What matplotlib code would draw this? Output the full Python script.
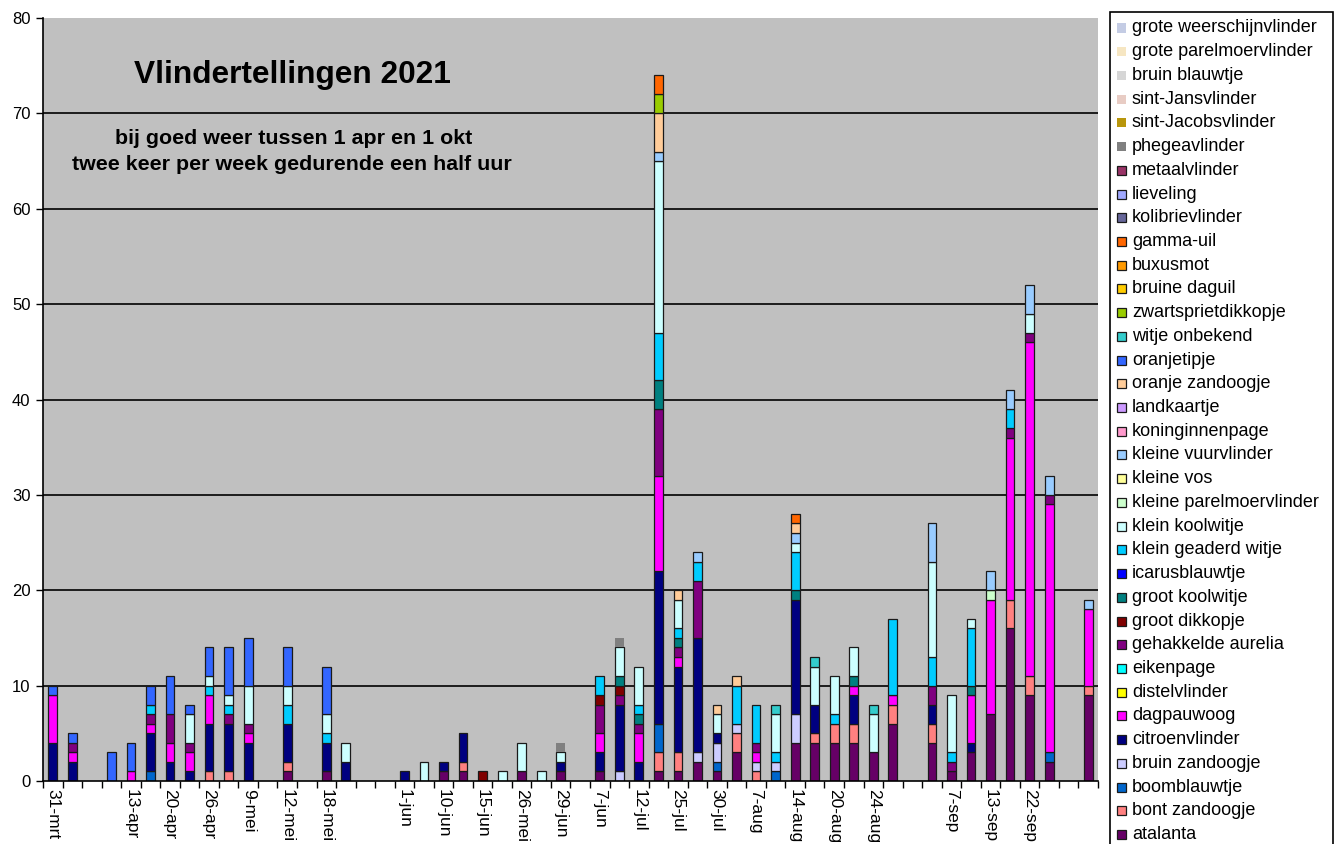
import numpy as np
import matplotlib
matplotlib.use("Agg")
import matplotlib.pyplot as plt
from matplotlib.patches import Rectangle

plt.rcParams['font.family'] = ['Liberation Sans', 'DejaVu Sans']

# ---------------- data ----------------
dates = ["31-mrt", "", "", "", "13-apr", "", "20-apr", "", "26-apr", "",
         "9-mei", "", "12-mei", "", "18-mei", "", "", "", "1-jun", "",
         "10-jun", "", "15-jun", "", "26-mei", "", "29-jun", "", "7-jun", "",
         "12-jul", "", "25-jul", "", "30-jul", "", "7-aug", "", "14-aug", "",
         "20-aug", "", "24-aug", "", "", "", "7-sep", "", "13-sep", "",
         "22-sep", "", "", ""]
N = len(dates)
NONE = [0] * N

atalanta = [0, 0, 0, 0, 0, 0, 0, 0, 0, 0,
            0, 0, 1, 0, 1, 0, 0, 0, 0, 0,
            1, 1, 0, 0, 1, 0, 1, 0, 1, 0,
            0, 1, 1, 2, 1, 3, 0, 0, 4, 4,
            4, 4, 3, 6, 0, 4, 1, 3, 7, 16,
            9, 2, 0, 9]
bont_zandoogje = [0, 0, 0, 0, 0, 0, 0, 0, 1, 1,
                  0, 0, 1, 0, 0, 0, 0, 0, 0, 0,
                  0, 1, 0, 0, 0, 0, 0, 0, 0, 0,
                  0, 2, 2, 0, 0, 2, 1, 0, 0, 1,
                  2, 2, 0, 2, 0, 2, 0, 0, 0, 3,
                  2, 0, 0, 1]
boomblauwtje = [0, 0, 0, 0, 0, 1, 0, 0, 0, 0,
                0, 0, 0, 0, 0, 0, 0, 0, 0, 0,
                0, 0, 0, 0, 0, 0, 0, 0, 0, 0,
                0, 3, 0, 0, 1, 0, 0, 1, 0, 0,
                0, 0, 0, 0, 0, 0, 0, 0, 0, 0,
                0, 1, 0, 0]
bruin_zandoogje = [0, 0, 0, 0, 0, 0, 0, 0, 0, 0,
                   0, 0, 0, 0, 0, 0, 0, 0, 0, 0,
                   0, 0, 0, 0, 0, 0, 0, 0, 0, 1,
                   0, 0, 0, 1, 2, 1, 1, 1, 3, 0,
                   0, 0, 0, 0, 0, 0, 0, 0, 0, 0,
                   0, 0, 0, 0]
citroenvlinder = [4, 2, 0, 0, 0, 4, 2, 1, 5, 5,
                  4, 0, 4, 0, 3, 2, 0, 0, 1, 0,
                  1, 3, 0, 0, 0, 0, 1, 0, 2, 7,
                  2, 16, 9, 12, 1, 0, 0, 0, 12, 3,
                  0, 3, 0, 0, 0, 2, 0, 1, 0, 0,
                  0, 0, 0, 0]
dagpauwoog = [5, 1, 0, 0, 1, 1, 2, 2, 3, 0,
              1, 0, 0, 0, 0, 0, 0, 0, 0, 0,
              0, 0, 0, 0, 0, 0, 0, 0, 2, 0,
              3, 10, 1, 0, 0, 0, 1, 0, 0, 0,
              0, 1, 0, 1, 0, 0, 0, 5, 12, 17,
              35, 26, 0, 8]
gehakkelde_aurelia = [0, 1, 0, 0, 0, 1, 3, 1, 0, 1,
                      1, 0, 0, 0, 0, 0, 0, 0, 0, 0,
                      0, 0, 0, 0, 0, 0, 0, 0, 3, 1,
                      1, 7, 1, 6, 0, 0, 1, 0, 0, 0,
                      0, 0, 0, 0, 0, 2, 1, 0, 0, 1,
                      1, 1, 0, 0]
groot_dikkopje = [0, 0, 0, 0, 0, 0, 0, 0, 0, 0,
                  0, 0, 0, 0, 0, 0, 0, 0, 0, 0,
                  0, 0, 1, 0, 0, 0, 0, 0, 1, 1,
                  0, 0, 0, 0, 0, 0, 0, 0, 0, 0,
                  0, 0, 0, 0, 0, 0, 0, 0, 0, 0,
                  0, 0, 0, 0]
groot_koolwitje = [0, 0, 0, 0, 0, 0, 0, 0, 0, 0,
                   0, 0, 0, 0, 0, 0, 0, 0, 0, 0,
                   0, 0, 0, 0, 0, 0, 0, 0, 0, 1,
                   1, 3, 1, 0, 0, 0, 0, 0, 1, 0,
                   0, 1, 0, 0, 0, 0, 0, 1, 0, 0,
                   0, 0, 0, 0]
klein_geaderd_witje = [0, 0, 0, 0, 0, 1, 0, 0, 1, 1,
                       0, 0, 2, 0, 1, 0, 0, 0, 0, 0,
                       0, 0, 0, 0, 0, 0, 0, 0, 2, 0,
                       1, 5, 1, 2, 0, 4, 4, 1, 4, 0,
                       1, 0, 0, 8, 0, 3, 1, 6, 0, 2,
                       0, 0, 0, 0]
klein_koolwitje = [0, 0, 0, 0, 0, 0, 0, 3, 1, 1,
                   4, 0, 2, 0, 2, 2, 0, 0, 0, 2,
                   0, 0, 0, 1, 3, 1, 1, 0, 0, 3,
                   4, 18, 3, 0, 2, 0, 0, 4, 1, 4,
                   4, 3, 4, 0, 0, 10, 6, 1, 0, 0,
                   2, 0, 0, 0]
kleine_parelmoervlinder = [0, 0, 0, 0, 0, 0, 0, 0, 0, 0,
                           0, 0, 0, 0, 0, 0, 0, 0, 0, 0,
                           0, 0, 0, 0, 0, 0, 0, 0, 0, 0,
                           0, 0, 0, 0, 0, 0, 0, 0, 0, 0,
                           0, 0, 0, 0, 0, 0, 0, 0, 1, 0,
                           0, 0, 0, 0]
kleine_vuurvlinder = [0, 0, 0, 0, 0, 0, 0, 0, 0, 0,
                      0, 0, 0, 0, 0, 0, 0, 0, 0, 0,
                      0, 0, 0, 0, 0, 0, 0, 0, 0, 0,
                      0, 1, 0, 1, 0, 0, 0, 0, 1, 0,
                      0, 0, 0, 0, 0, 4, 0, 0, 2, 2,
                      3, 2, 0, 1]
oranje_zandoogje = [0, 0, 0, 0, 0, 0, 0, 0, 0, 0,
                    0, 0, 0, 0, 0, 0, 0, 0, 0, 0,
                    0, 0, 0, 0, 0, 0, 0, 0, 0, 0,
                    0, 4, 1, 0, 1, 1, 0, 0, 1, 0,
                    0, 0, 0, 0, 0, 0, 0, 0, 0, 0,
                    0, 0, 0, 0]
oranjetipje = [1, 1, 0, 3, 3, 2, 4, 1, 3, 5,
               5, 0, 4, 0, 5, 0, 0, 0, 0, 0,
               0, 0, 0, 0, 0, 0, 0, 0, 0, 0,
               0, 0, 0, 0, 0, 0, 0, 0, 0, 0,
               0, 0, 0, 0, 0, 0, 0, 0, 0, 0,
               0, 0, 0, 0]
witje_onbekend = [0, 0, 0, 0, 0, 0, 0, 0, 0, 0,
                  0, 0, 0, 0, 0, 0, 0, 0, 0, 0,
                  0, 0, 0, 0, 0, 0, 0, 0, 0, 0,
                  0, 0, 0, 0, 0, 0, 0, 1, 0, 1,
                  0, 0, 1, 0, 0, 0, 0, 0, 0, 0,
                  0, 0, 0, 0]
zwartsprietdikkopje = [0, 0, 0, 0, 0, 0, 0, 0, 0, 0,
                       0, 0, 0, 0, 0, 0, 0, 0, 0, 0,
                       0, 0, 0, 0, 0, 0, 0, 0, 0, 0,
                       0, 2, 0, 0, 0, 0, 0, 0, 0, 0,
                       0, 0, 0, 0, 0, 0, 0, 0, 0, 0,
                       0, 0, 0, 0]
gamma_uil = [0, 0, 0, 0, 0, 0, 0, 0, 0, 0,
             0, 0, 0, 0, 0, 0, 0, 0, 0, 0,
             0, 0, 0, 0, 0, 0, 0, 0, 0, 0,
             0, 2, 0, 0, 0, 0, 0, 0, 1, 0,
             0, 0, 0, 0, 0, 0, 0, 0, 0, 0,
             0, 0, 0, 0]
phegeavlinder = [0, 0, 0, 0, 0, 0, 0, 0, 0, 0,
                 0, 0, 0, 0, 0, 0, 0, 0, 0, 0,
                 0, 0, 0, 0, 0, 0, 1, 0, 0, 1,
                 0, 0, 0, 0, 0, 0, 0, 0, 0, 0,
                 0, 0, 0, 0, 0, 0, 0, 0, 0, 0,
                 0, 0, 0, 0]

# stacking order (bottom -> top): name, values, colour, outlined
series = [
    ("atalanta", atalanta, "#660066", True),
    ("bont zandoogje", bont_zandoogje, "#FF8080", True),
    ("boomblauwtje", boomblauwtje, "#0066CC", True),
    ("bruin zandoogje", bruin_zandoogje, "#CCCCFF", True),
    ("citroenvlinder", citroenvlinder, "#000080", True),
    ("dagpauwoog", dagpauwoog, "#FF00FF", True),
    ("distelvlinder", NONE, "#FFFF00", True),
    ("eikenpage", NONE, "#00FFFF", True),
    ("gehakkelde aurelia", gehakkelde_aurelia, "#800080", True),
    ("groot dikkopje", groot_dikkopje, "#800000", True),
    ("groot koolwitje", groot_koolwitje, "#008080", True),
    ("icarusblauwtje", NONE, "#0000FF", True),
    ("klein geaderd witje", klein_geaderd_witje, "#00CCFF", True),
    ("klein koolwitje", klein_koolwitje, "#CCFFFF", True),
    ("kleine parelmoervlinder", kleine_parelmoervlinder, "#CCFFCC", True),
    ("kleine vos", NONE, "#FFFF99", True),
    ("kleine vuurvlinder", kleine_vuurvlinder, "#99CCFF", True),
    ("koninginnenpage", NONE, "#FF99CC", True),
    ("landkaartje", NONE, "#CC99FF", True),
    ("oranje zandoogje", oranje_zandoogje, "#FFCC99", True),
    ("oranjetipje", oranjetipje, "#3366FF", True),
    ("witje onbekend", witje_onbekend, "#33CCCC", True),
    ("zwartsprietdikkopje", zwartsprietdikkopje, "#99CC00", True),
    ("bruine daguil", NONE, "#FFCC00", True),
    ("buxusmot", NONE, "#FF9900", True),
    ("gamma-uil", gamma_uil, "#FF6600", True),
    ("kolibrievlinder", NONE, "#666699", True),
    ("lieveling", NONE, "#A0A8FF", True),
    ("metaalvlinder", NONE, "#993366", True),
    ("phegeavlinder", phegeavlinder, "#808080", False),
    ("sint-Jacobsvlinder", NONE, "#B8960C", False),
    ("sint-Jansvlinder", NONE, "#E8CCC4", False),
    ("bruin blauwtje", NONE, "#D6D6D6", False),
    ("grote parelmoervlinder", NONE, "#F6E6C2", False),
    ("grote weerschijnvlinder", NONE, "#C4CCE4", False),
]

title = "Vlindertellingen 2021"
subtitle1 = "bij goed weer tussen 1 apr en 1 okt"
subtitle2 = "twee keer per week gedurende een half uur"

# ---------------- figure ----------------
W, H = 1336, 844
fig = plt.figure(figsize=(W / 100, H / 100), dpi=100)
fig.patch.set_facecolor("white")


def fx(px):
    return px / W


def fy(py):
    return 1 - py / H


ax = fig.add_axes([fx(43), fy(781), fx(1098) - fx(43), fy(18) - fy(781)])
ax.set_facecolor("#C0C0C0")

x = np.arange(N)
bottom = np.zeros(N)
for name, vals, col, outlined in series:
    v = np.asarray(vals, dtype=float)
    m = v > 0
    if m.any():
        ax.bar(x[m], v[m], width=0.45, bottom=bottom[m], color=col,
               edgecolor="#1a1a1a" if outlined else "none",
               linewidth=0.9, zorder=3)
    bottom += v

ax.set_xlim(-0.5, N - 0.5)
ax.set_ylim(0, 80)
ax.set_yticks(np.arange(0, 81, 10))
ax.grid(axis="y", color="black", linewidth=1.2, zorder=1)
ax.yaxis.get_gridlines()[-1].set_visible(False)
ax.yaxis.get_gridlines()[0].set_visible(False)
ax.set_axisbelow(True)

ax.set_xticks(x)
ax.set_xticklabels(dates, rotation=270, fontsize=12.5)
ax.set_xticks(np.arange(-0.5, N, 1), minor=True)
ax.tick_params(axis="x", which="major", length=0, pad=6)
ax.tick_params(axis="x", which="minor", length=5, width=1, direction="out")
ax.tick_params(axis="y", length=5, width=1, direction="out", labelsize=12, pad=4)

for s in ("top", "right"):
    ax.spines[s].set_visible(False)
for s in ("left", "bottom"):
    ax.spines[s].set_color("black")
    ax.spines[s].set_linewidth(1.2)
    ax.spines[s].set_zorder(4)

fig.text(fx(292), fy(75), title, ha="center", va="center",
         fontsize=22.8, fontweight="bold")
fig.text(fx(294), fy(139), subtitle1, ha="center", va="center",
         fontsize=15.4, fontweight="bold")
fig.text(fx(292), fy(165), subtitle2, ha="center", va="center",
         fontsize=15.4, fontweight="bold")

# ---------------- legend (top entry = top of stack) ----------------
leg_left, leg_top, leg_right = 1110, 12, 1333
fig.add_artist(Rectangle((fx(leg_left), fy(860)), fx(leg_right) - fx(leg_left),
                         fy(leg_top) - fy(860), transform=fig.transFigure,
                         facecolor="white", edgecolor="black", linewidth=1.2))
step = 23.72
for i, (name, vals, col, outlined) in enumerate(series[::-1]):
    yc = 28 + i * step
    fig.add_artist(Rectangle((fx(1117), fy(yc + 4.5)), fx(9), 9 / H,
                             transform=fig.transFigure, facecolor=col,
                             edgecolor="#1a1a1a" if outlined else "none",
                             linewidth=0.9))
    fig.text(fx(1132), fy(yc), name, ha="left", va="center", fontsize=13)

fig.savefig("out.png", dpi=100)
